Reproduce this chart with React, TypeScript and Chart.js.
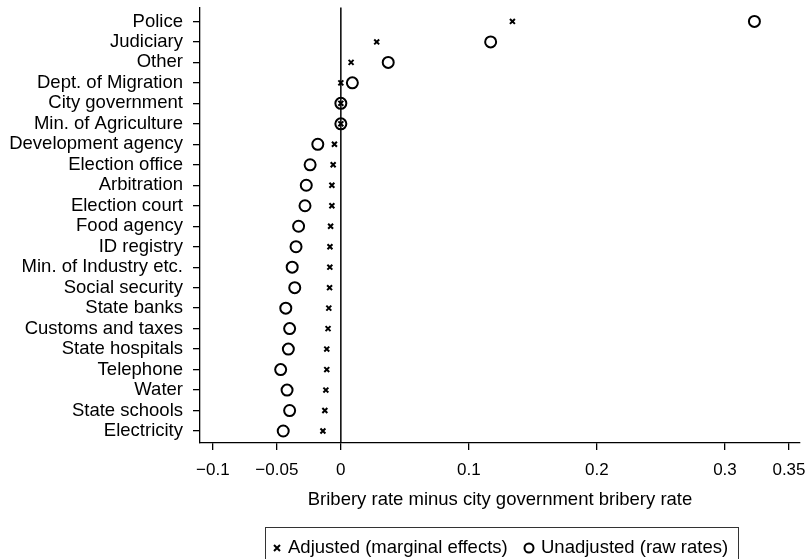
import React, { useEffect, useRef } from "react";
import { Chart, registerables } from "chart.js";

Chart.register(...registerables);

const categories = [
  "Police", "Judiciary", "Other", "Dept. of Migration", "City government",
  "Min. of Agriculture", "Development agency", "Election office", "Arbitration",
  "Election court", "Food agency", "ID registry", "Min. of Industry etc.",
  "Social security", "State banks", "Customs and taxes", "State hospitals",
  "Telephone", "Water", "State schools", "Electricity",
];
const adjusted = [
  0.134, 0.028, 0.008, 0.0, 0.0, 0.0, -0.005, -0.006, -0.007, -0.007, -0.008,
  -0.0085, -0.0086, -0.0088, -0.0094, -0.010, -0.011, -0.011, -0.0117, -0.0125, -0.014,
];
const unadjusted = [
  0.323, 0.117, 0.037, 0.009, 0.0, 0.0, -0.018, -0.024, -0.027, -0.028, -0.033,
  -0.035, -0.038, -0.036, -0.043, -0.040, -0.041, -0.047, -0.042, -0.040, -0.045,
];
const xTickValues = [-0.1, -0.05, 0, 0.1, 0.2, 0.3, 0.35];
const xTickLabels = ["\u22120.1", "\u22120.05", "0", "0.1", "0.2", "0.3", "0.35"];
const xTitle = "Bribery rate minus city government bribery rate";
const legendLabels = ["Adjusted (marginal effects)", "Unadjusted (raw rates)"];

const FONT = '"Liberation Sans", Arial, Helvetica, sans-serif';

export default function App() {
  const ref = useRef<HTMLCanvasElement | null>(null);

  useEffect(() => {
    document.body.style.margin = "0";
    const canvas = ref.current;
    if (!canvas) return;

    const overlay = {
      id: "overlay",
      afterDatasetsDraw(chart: any) {
        const { ctx, chartArea, scales } = chart;
        const x0 = scales.x.getPixelForValue(0);
        ctx.save();
        ctx.strokeStyle = "#000";
        ctx.lineWidth = 1.5;
        ctx.beginPath();
        ctx.moveTo(x0, chartArea.top);
        ctx.lineTo(x0, chartArea.bottom);
        ctx.stroke();
        ctx.restore();
      },
      afterDraw(chart: any) {
        const { ctx, chartArea } = chart;
        ctx.save();
        ctx.fillStyle = "#000";
        ctx.font = `18.5px ${FONT}`;
        ctx.textAlign = "center";
        ctx.textBaseline = "middle";
        ctx.fillText(xTitle, (chartArea.left + chartArea.right) / 2, 500);

        // legend box
        ctx.strokeStyle = "#333";
        ctx.lineWidth = 1;
        ctx.strokeRect(265.5, 527.5, 473, 60);
        const ly = 548;
        // crossRot marker
        ctx.lineWidth = 2;
        ctx.strokeStyle = "#000";
        const r = 3;
        const cx = 277;
        ctx.beginPath();
        ctx.moveTo(cx - r, ly - r);
        ctx.lineTo(cx + r, ly + r);
        ctx.moveTo(cx - r, ly + r);
        ctx.lineTo(cx + r, ly - r);
        ctx.stroke();
        ctx.textAlign = "left";
        ctx.fillText(legendLabels[0], 288, ly);
        ctx.beginPath();
        ctx.arc(529, ly, 4.5, 0, Math.PI * 2);
        ctx.stroke();
        ctx.fillText(legendLabels[1], 541, ly);
        ctx.restore();
      },
    };

    const chart = new Chart(canvas, {
      type: "scatter",
      data: {
        datasets: [
          {
            label: legendLabels[0],
            data: adjusted.map((v, i) => ({ x: v, y: i })),
            pointStyle: "crossRot",
            pointRadius: 3.5,
            borderWidth: 2,
            borderColor: "#000",
            backgroundColor: "#000",
          },
          {
            label: legendLabels[1],
            data: unadjusted.map((v, i) => ({ x: v, y: i })),
            pointStyle: "circle",
            pointRadius: 5.5,
            borderWidth: 2,
            borderColor: "#000",
            backgroundColor: "rgba(0,0,0,0)",
          },
        ],
      },
      options: {
        animation: false,
        responsive: false,
        maintainAspectRatio: false,
        layout: { padding: { top: 7, right: 8, left: 0, bottom: 0 } },
        plugins: {
          legend: { display: false },
          tooltip: { enabled: false },
        },
        scales: {
          x: {
            type: "linear",
            min: -0.11,
            max: 0.3586,
            afterBuildTicks: (s: any) => {
              s.ticks = xTickValues.map((v) => ({ value: v }));
            },
            afterFit: (s: any) => {
              s.height = 116;
              s.paddingLeft = 0;
              s.paddingRight = 0;
            },
            ticks: {
              autoSkip: false,
              maxRotation: 0,
              color: "#000",
              font: { family: FONT, size: 17 },
              padding: 10,
              callback: (v: any) => {
                const i = xTickValues.findIndex((t) => Math.abs(t - Number(v)) < 1e-9);
                return i >= 0 ? xTickLabels[i] : "";
              },
            },
            grid: {
              display: true,
              drawOnChartArea: false,
              drawTicks: true,
              tickLength: 7,
              color: "#000",
              lineWidth: 1.3,
            },
            border: { display: true, color: "#000", width: 1.3 },
          },
          y: {
            type: "linear",
            reverse: true,
            min: -0.68,
            max: 20.585,
            afterBuildTicks: (s: any) => {
              s.ticks = categories.map((_, i) => ({ value: i }));
            },
            afterFit: (s: any) => {
              s.width = 200;
              s.paddingTop = 0;
              s.paddingBottom = 0;
            },
            ticks: {
              autoSkip: false,
              color: "#000",
              font: { family: FONT, size: 18.5 },
              padding: 10,
              callback: (v: any) => categories[Math.round(Number(v))] ?? "",
            },
            grid: {
              display: true,
              drawOnChartArea: false,
              drawTicks: true,
              tickLength: 7,
              color: "#000",
              lineWidth: 1.3,
            },
            border: { display: true, color: "#000", width: 1.3 },
          },
        },
      },
      plugins: [overlay],
    });

    return () => chart.destroy();
  }, []);

  return (
    <div style={{ width: 808, height: 559, background: "#fff" }}>
      <canvas ref={ref} width={808} height={559} style={{ display: "block" }} />
    </div>
  );
}
